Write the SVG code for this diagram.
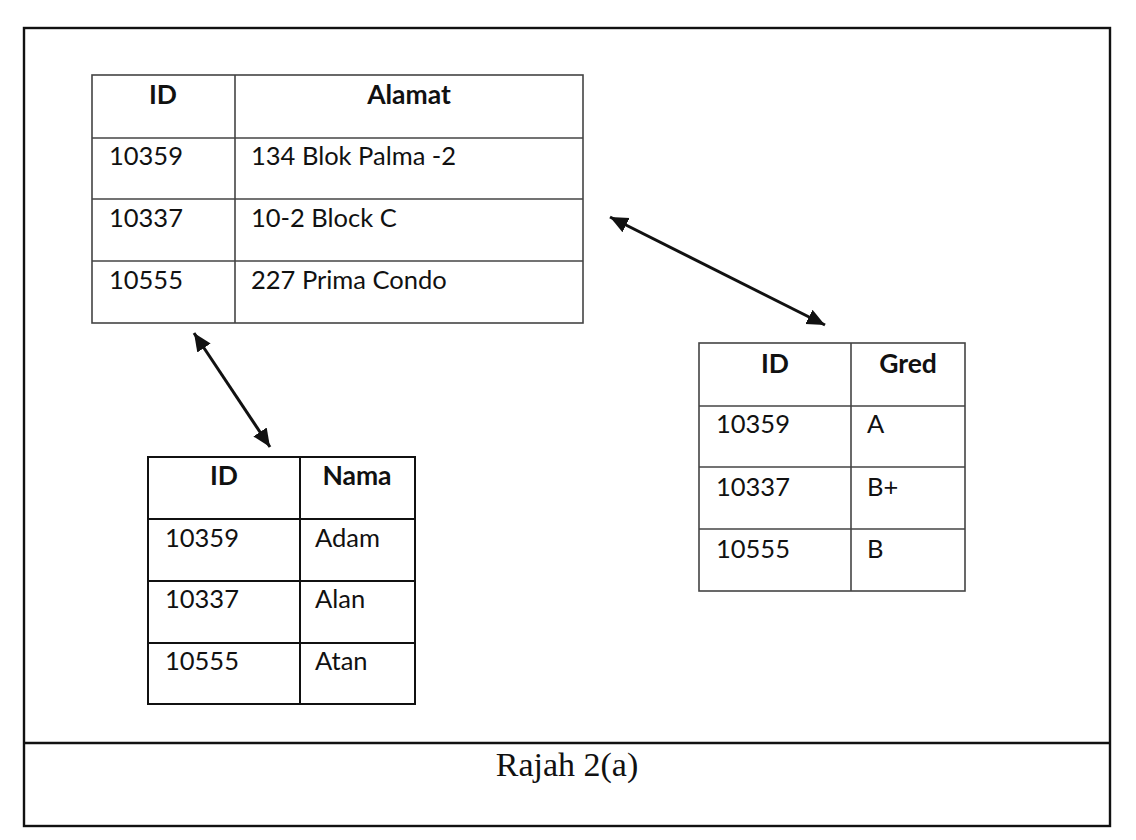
<svg xmlns="http://www.w3.org/2000/svg" width="1136" height="840" viewBox="0 0 1136 840">
<style>
.frame{fill:none;stroke:#111;stroke-width:2.4}
.grid{fill:none;stroke:#444;stroke-width:1.6}
.grid2{fill:none;stroke:#111;stroke-width:2}
.t{font-family:Lato,"Open Sans",sans-serif;font-size:25.5px;fill:#111}
.h{font-family:Lato,"Open Sans",sans-serif;font-size:26.5px;font-weight:bold;fill:#111;text-anchor:middle}
.cap{font-family:"Liberation Serif","Times New Roman",serif;font-size:34px;fill:#111;text-anchor:middle}
.conn{stroke:#111;stroke-width:3;fill:none;marker-start:url(#ah);marker-end:url(#ah)}
</style>
<defs>
<marker id="ah" markerUnits="userSpaceOnUse" markerWidth="20" markerHeight="18" refX="18" refY="8" orient="auto-start-reverse" viewBox="0 0 20 16">
<path d="M0,0 L18,8 L0,16 z" fill="#111"/>
</marker>
</defs>
<rect width="1136" height="840" fill="#fff"/>
<g id="frame">
<rect class="frame" x="24" y="28" width="1086" height="798"/>
<line class="frame" x1="24" y1="743" x2="1110" y2="743"/>
<text class="cap" x="567" y="776">Rajah 2(a)</text>
</g>
<g id="table-alamat">
<rect class="grid" x="92" y="75" width="491" height="248"/>
<line class="grid" x1="92" y1="138" x2="583" y2="138"/>
<line class="grid" x1="92" y1="199" x2="583" y2="199"/>
<line class="grid" x1="92" y1="261" x2="583" y2="261"/>
<line class="grid" x1="235" y1="75" x2="235" y2="323"/>
<text class="h" x="163" y="104">ID</text>
<text class="h" x="409" y="104">Alamat</text>
<text class="t" x="109" y="165">10359</text>
<text class="t" x="251" y="165">134 Blok Palma -2</text>
<text class="t" x="109" y="227">10337</text>
<text class="t" x="251" y="227">10-2 Block C</text>
<text class="t" x="109" y="289">10555</text>
<text class="t" x="251" y="289">227 Prima Condo</text>
</g>
<g id="table-nama">
<rect class="grid2" x="148" y="457" width="267" height="247"/>
<line class="grid2" x1="148" y1="519" x2="415" y2="519"/>
<line class="grid2" x1="148" y1="581" x2="415" y2="581"/>
<line class="grid2" x1="148" y1="643" x2="415" y2="643"/>
<line class="grid2" x1="300" y1="457" x2="300" y2="704"/>
<text class="h" x="224" y="485">ID</text>
<text class="h" x="357" y="485">Nama</text>
<text class="t" x="165" y="547">10359</text>
<text class="t" x="315" y="547">Adam</text>
<text class="t" x="165" y="608">10337</text>
<text class="t" x="315" y="608">Alan</text>
<text class="t" x="165" y="670">10555</text>
<text class="t" x="315" y="670">Atan</text>
</g>
<g id="table-gred">
<rect class="grid" x="699" y="343" width="266" height="248"/>
<line class="grid" x1="699" y1="406" x2="965" y2="406"/>
<line class="grid" x1="699" y1="467" x2="965" y2="467"/>
<line class="grid" x1="699" y1="529" x2="965" y2="529"/>
<line class="grid" x1="851" y1="343" x2="851" y2="591"/>
<text class="h" x="775" y="373">ID</text>
<text class="h" x="908" y="373">Gred</text>
<text class="t" x="716" y="433">10359</text>
<text class="t" x="867" y="433">A</text>
<text class="t" x="716" y="496">10337</text>
<text class="t" x="867" y="496">B+</text>
<text class="t" x="716" y="558">10555</text>
<text class="t" x="867" y="558">B</text>
</g>
<g id="connectors">
<line class="conn" x1="194" y1="333" x2="270" y2="447"/>
<line class="conn" x1="610" y1="217" x2="825" y2="325"/>
</g>
</svg>
